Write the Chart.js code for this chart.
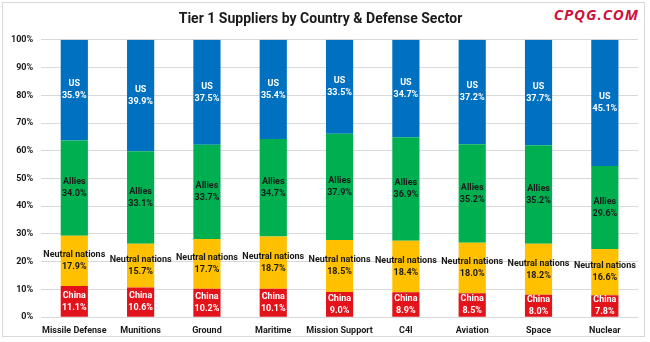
<!DOCTYPE html>
<html>
<head>
<meta charset="utf-8">
<script src="https://cdn.jsdelivr.net/npm/chart.js@4.4.1/dist/chart.umd.min.js"></script>
<style>
  html, body { margin: 0; padding: 0; background: #fff; }
  #wrap { position: relative; width: 650px; height: 342px; }
  #frame { position: absolute; left: 2px; top: 2px; width: 643px; height: 335px; border: 1px solid #d9d9d9; box-sizing: border-box; }
  #brand { position: absolute; right: 9px; top: 4px; font: italic 700 15px "Open Sans", sans-serif; color: #d0103a; letter-spacing: 1px; background: #fff; padding: 0 2px; }
</style>
</head>
<body>
<div id="wrap">
  <div id="frame"></div>
  <canvas id="grafico" width="650" height="342"></canvas>
  <div id="brand">CPQG.COM</div>
</div>
<script>
// Sectores y participación por país (en %)
const sectores = ["Missile Defense", "Munitions", "Ground", "Maritime", "Mission Support", "C4I", "Aviation", "Space", "Nuclear"];
const china   = [11.1, 10.6, 10.2, 10.1, 9.0, 8.9, 8.5, 8.0, 7.8];
const neutral = [17.9, 15.7, 17.7, 18.7, 18.5, 18.4, 18.0, 18.2, 16.6];
const allies  = [34.0, 33.1, 33.7, 34.7, 37.9, 36.9, 35.2, 35.2, 29.6];
const us      = [35.9, 39.9, 37.5, 35.4, 33.5, 34.7, 37.2, 37.7, 45.1];
const yTicks  = [0, 10, 20, 30, 40, 50, 60, 70, 80, 90, 100];

// Totales por sector para apilar al 100%
const totales = sectores.map((_, i) => china[i] + neutral[i] + allies[i] + us[i]);
const aCien = serie => serie.map((v, i) => v / totales[i] * 100);

const series = [
  { nombre: "China", valores: china, color: "#e3131b", texto: "#ffffff" },
  { nombre: "Neutral nations", valores: neutral, color: "#ffc000", texto: "#1a1a1a" },
  { nombre: "Allies", valores: allies, color: "#00b050", texto: "#1a1a1a" },
  { nombre: "US", valores: us, color: "#0070c0", texto: "#ffffff" }
];

// Etiquetas dentro de cada segmento: nombre + porcentaje
const etiquetasBarras = {
  id: "etiquetasBarras",
  afterDatasetsDraw(chart) {
    const ctx = chart.ctx;
    ctx.save();
    ctx.font = "bold 9px Roboto";
    ctx.textAlign = "center";
    ctx.textBaseline = "middle";
    chart.data.datasets.forEach((ds, d) => {
      const meta = chart.getDatasetMeta(d);
      meta.data.forEach((bar, i) => {
        const centro = (bar.y + bar.base) / 2;
        ctx.fillStyle = series[d].texto;
        ctx.fillText(ds.label, bar.x, centro - 6);
        ctx.fillText(series[d].valores[i].toFixed(1) + "%", bar.x, centro + 6);
      });
    });
    ctx.restore();
  }
};

new Chart(document.getElementById("grafico"), {
  type: "bar",
  data: {
    labels: sectores,
    datasets: series.map(s => ({
      label: s.nombre,
      data: aCien(s.valores),
      backgroundColor: s.color,
      borderWidth: 0,
      categoryPercentage: 1,
      barPercentage: 0.41
    }))
  },
  options: {
    responsive: false,
    animation: false,
    layout: { padding: { left: 3, right: 12, top: 5, bottom: 6 } },
    plugins: {
      legend: { display: false },
      tooltip: { enabled: false },
      title: {
        display: true,
        text: "Tier 1 Suppliers by Country & Defense Sector",
        color: "#1a1a1a",
        font: { family: "Roboto", size: 14, weight: "bold" },
        padding: { top: 6, bottom: 12 }
      }
    },
    scales: {
      x: {
        stacked: true,
        grid: { display: false },
        border: { display: false },
        ticks: { color: "#1a1a1a", font: { family: "Roboto", size: 9, weight: "bold" }, padding: 0, maxRotation: 0, autoSkip: false }
      },
      y: {
        stacked: true,
        min: 0,
        max: 100,
        afterBuildTicks: axis => { axis.ticks = yTicks.map(v => ({ value: v })); },
        grid: { color: "#d9d9d9", drawTicks: false },
        border: { display: false },
        ticks: { color: "#1a1a1a", font: { family: "Roboto", size: 9, weight: "bold" }, padding: 8, callback: v => v + "%" }
      }
    }
  },
  plugins: [etiquetasBarras]
});
</script>
</body>
</html>
